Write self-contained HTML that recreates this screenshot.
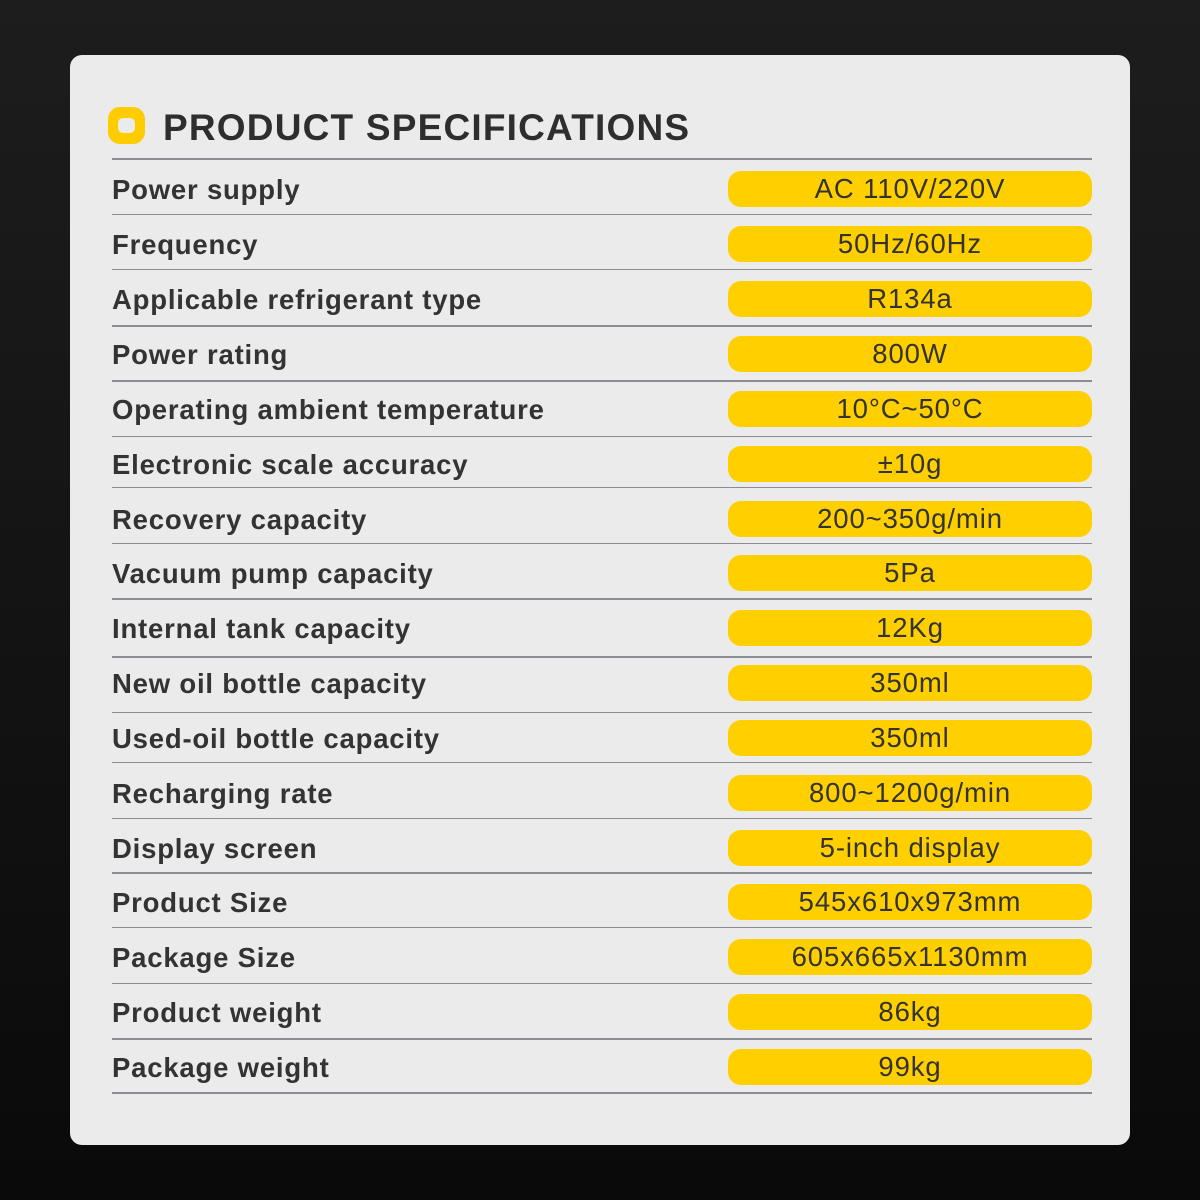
<!DOCTYPE html>
<html><head><style>
html,body{margin:0;padding:0}
body{width:1200px;height:1200px;background:linear-gradient(#1d1d1d,#0a0a0a);position:relative;overflow:hidden;font-family:"Liberation Sans",sans-serif}
.panel{position:absolute;left:70px;top:55px;width:1060px;height:1090px;background:#ebebeb;border-radius:12px}
.icon{position:absolute;left:108px;top:107px;width:37px;height:37px;background:#ffcc00;border-radius:12px}
.icon:after{content:"";position:absolute;left:10px;top:11px;width:17px;height:15px;background:#ebebeb;border-radius:5px}
.title{position:absolute;left:163px;top:107px;font-size:37px;font-weight:bold;color:#2e2e2e;letter-spacing:1.2px}
.line{position:absolute;left:112px;width:980px;height:2px;background:#8a8e94}
.lab{position:absolute;left:112px;font-size:27.5px;font-weight:bold;color:#333;line-height:38px;letter-spacing:0.8px}
.pill{position:absolute;left:728px;width:364px;height:36px;background:#ffcf00;border-radius:13px;text-align:center;font-size:27.5px;color:#333;line-height:36px;letter-spacing:0.9px}
</style></head><body>
<div class="panel"></div>
<div class="icon"></div>
<div class="title">PRODUCT SPECIFICATIONS</div>
<div class="line" style="top:158px"></div>
<div class="line" style="top:214px;height:1px"></div>
<div class="line" style="top:269px;height:1px"></div>
<div class="line" style="top:325px"></div>
<div class="line" style="top:380px"></div>
<div class="line" style="top:436px;height:1px"></div>
<div class="line" style="top:487px;height:1px"></div>
<div class="line" style="top:543px;height:1px"></div>
<div class="line" style="top:598px"></div>
<div class="line" style="top:656px"></div>
<div class="line" style="top:712px;height:1px"></div>
<div class="line" style="top:762px;height:1px"></div>
<div class="line" style="top:818px;height:1px"></div>
<div class="line" style="top:872px"></div>
<div class="line" style="top:927px;height:1px"></div>
<div class="line" style="top:983px;height:1px"></div>
<div class="line" style="top:1038px"></div>
<div class="line" style="top:1092px"></div>

<div class="lab" style="top:171px">Power supply</div><div class="pill" style="top:171px">AC 110V/220V</div>
<div class="lab" style="top:226px">Frequency</div><div class="pill" style="top:226px">50Hz/60Hz</div>
<div class="lab" style="top:281px">Applicable refrigerant type</div><div class="pill" style="top:281px">R134a</div>
<div class="lab" style="top:336px">Power rating</div><div class="pill" style="top:336px">800W</div>
<div class="lab" style="top:391px">Operating ambient temperature</div><div class="pill" style="top:391px">10°C~50°C</div>
<div class="lab" style="top:446px">Electronic scale accuracy</div><div class="pill" style="top:446px">±10g</div>
<div class="lab" style="top:501px">Recovery capacity</div><div class="pill" style="top:501px">200~350g/min</div>
<div class="lab" style="top:555px">Vacuum pump capacity</div><div class="pill" style="top:555px">5Pa</div>
<div class="lab" style="top:610px">Internal tank capacity</div><div class="pill" style="top:610px">12Kg</div>
<div class="lab" style="top:665px">New oil bottle capacity</div><div class="pill" style="top:665px">350ml</div>
<div class="lab" style="top:720px">Used-oil bottle capacity</div><div class="pill" style="top:720px">350ml</div>
<div class="lab" style="top:775px">Recharging rate</div><div class="pill" style="top:775px">800~1200g/min</div>
<div class="lab" style="top:830px">Display screen</div><div class="pill" style="top:830px">5-inch display</div>
<div class="lab" style="top:884px">Product Size</div><div class="pill" style="top:884px">545x610x973mm</div>
<div class="lab" style="top:939px">Package Size</div><div class="pill" style="top:939px">605x665x1130mm</div>
<div class="lab" style="top:994px">Product weight</div><div class="pill" style="top:994px">86kg</div>
<div class="lab" style="top:1049px">Package weight</div><div class="pill" style="top:1049px">99kg</div>
</body></html>
